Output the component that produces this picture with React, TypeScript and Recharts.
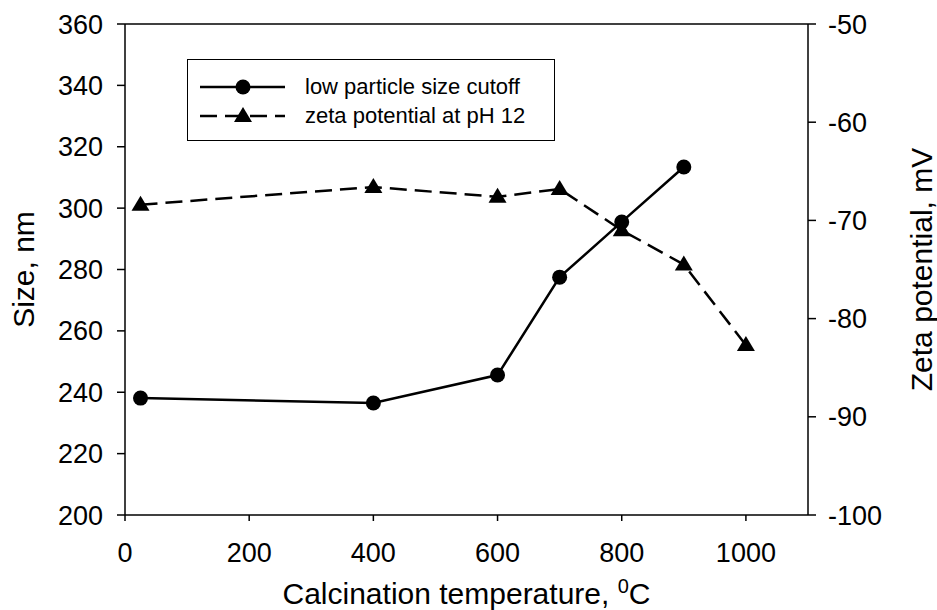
import { LineChart, Line, XAxis, YAxis, ReferenceLine } from 'recharts';

const temps = [25, 400, 600, 700, 800, 900, 1000];
const sizeCutoff = [238.1, 236.5, 245.6, 277.5, 295.5, 313.4, null];
const zetaPotential = [-68.4, -66.6, -67.6, -66.8, -71.0, -74.5, -82.7];

const xTicks = [0, 200, 400, 600, 800, 1000];
const leftTicks = [200, 220, 240, 260, 280, 300, 320, 340, 360];
const rightTicks = [-100, -90, -80, -70, -60, -50];

const data = temps.map((t, i) => ({ temp: t, size: sizeCutoff[i], zeta: zetaPotential[i] }));

const FONT = '"Liberation Sans", Arial, sans-serif';

const Triangle = (props: any) => {
  const { cx, cy } = props;
  if (cx == null || cy == null) return null;
  return <polygon points={`${cx},${cy - 9} ${cx - 9},${cy + 6} ${cx + 9},${cy + 6}`} fill="#000" />;
};

const Circle = (props: any) => {
  const { cx, cy } = props;
  if (cx == null || cy == null) return null;
  return <circle cx={cx} cy={cy} r={7.5} fill="#000" />;
};

// legend drawn as an overlay so it doesn't eat into the plot area
const LegendBox = () => (
  <div
    style={{
      position: 'absolute',
      left: 187,
      top: 59,
      width: 366,
      height: 80,
      border: '1.5px solid #000',
      background: '#fff',
      fontFamily: FONT,
      fontSize: 22,
      color: '#000',
    }}
  >
    <svg width={110} height={80} style={{ position: 'absolute', left: 0, top: 0 }}>
      <line x1={12} y1={27} x2={97} y2={27} stroke="#000" strokeWidth={2.5} />
      <circle cx={55} cy={27} r={7.5} fill="#000" />
      <line x1={12} y1={56} x2={97} y2={56} stroke="#000" strokeWidth={2.5} strokeDasharray="17 8" />
      <polygon points="55,47 46,62 64,62" fill="#000" />
    </svg>
    <div style={{ position: 'absolute', left: 117, top: 12, lineHeight: '29px' }}>
      <div>low particle size cutoff</div>
      <div>zeta potential at pH 12</div>
    </div>
  </div>
);

export default function App() {
  return (
    <div style={{ position: 'absolute', left: 0, top: 0, width: 937, height: 610, background: '#fff' }}>
      <LineChart width={937} height={610} data={data} margin={{ top: 24, right: 0, left: 0, bottom: 0 }}>
        <XAxis
          dataKey="temp"
          type="number"
          domain={[0, 1100]}
          ticks={xTicks}
          height={95}
          tickSize={6}
          tickMargin={22}
          stroke="#000"
          strokeWidth={1.5}
          tick={{ fill: '#000', fontSize: 27, fontFamily: FONT }}
          label={{
            content: (p: any) => {
              const vb = p.viewBox;
              return (
                <text
                  x={vb.x + vb.width / 2}
                  y={vb.y + vb.height - 6}
                  textAnchor="middle"
                  fontFamily={FONT}
                  fontSize={30}
                  fill="#000"
                >
                  Calcination temperature,{' '}
                  <tspan dy={-11} fontSize={20}>0</tspan>
                  <tspan dy={11}>C</tspan>
                </text>
              );
            },
          }}
        />
        <YAxis
          yAxisId="left"
          domain={[200, 360]}
          ticks={leftTicks}
          width={125}
          tickSize={8}
          tickMargin={14}
          stroke="#000"
          strokeWidth={1.5}
          tick={{ fill: '#000', fontSize: 27, fontFamily: FONT }}
          label={{
            content: (p: any) => {
              const vb = p.viewBox;
              const cy = vb.y + vb.height / 2;
              return (
                <text
                  x={23}
                  y={cy}
                  transform={`rotate(-90, 23, ${cy})`}
                  textAnchor="middle"
                  dominantBaseline="central"
                  fontFamily={FONT}
                  fontSize={30}
                  fill="#000"
                >
                  Size, nm
                </text>
              );
            },
          }}
        />
        <YAxis
          yAxisId="right"
          orientation="right"
          domain={[-100, -50]}
          ticks={rightTicks}
          width={129}
          tickSize={8}
          tickMargin={12}
          stroke="#000"
          strokeWidth={1.5}
          tick={{ fill: '#000', fontSize: 27, fontFamily: FONT }}
          label={{
            content: (p: any) => {
              const vb = p.viewBox;
              const cy = vb.y + vb.height / 2;
              return (
                <text
                  x={921}
                  y={cy}
                  transform={`rotate(-90, 921, ${cy})`}
                  textAnchor="middle"
                  dominantBaseline="central"
                  fontFamily={FONT}
                  fontSize={30}
                  fill="#000"
                >
                  Zeta potential, mV
                </text>
              );
            },
          }}
        />
        <ReferenceLine yAxisId="left" y={360} stroke="#000" strokeWidth={1.5} />
        <Line
          yAxisId="right"
          dataKey="zeta"
          stroke="#000"
          strokeWidth={2.5}
          strokeDasharray="17 8"
          dot={<Triangle />}
          activeDot={false}
          isAnimationActive={false}
        />
        <Line
          yAxisId="left"
          dataKey="size"
          stroke="#000"
          strokeWidth={2.5}
          dot={<Circle />}
          activeDot={false}
          connectNulls={false}
          isAnimationActive={false}
        />
      </LineChart>
      <LegendBox />
    </div>
  );
}
